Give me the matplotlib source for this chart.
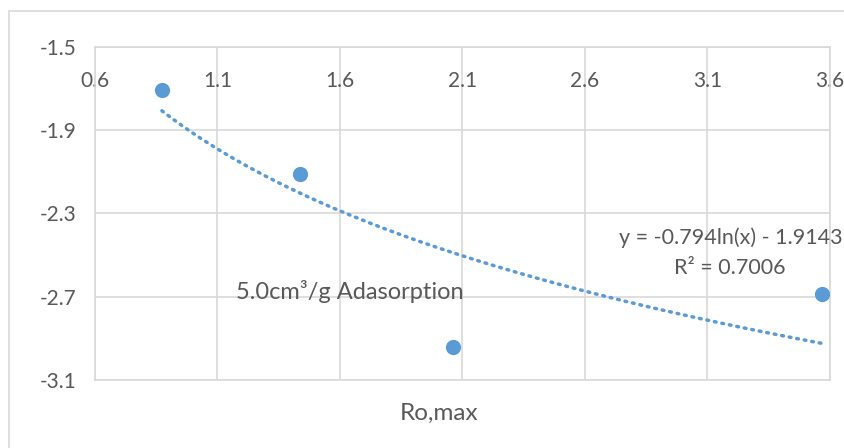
import matplotlib.pyplot as plt
import matplotlib.patches as mpatches
import numpy as np

# data
ro_max = [0.873, 1.437, 2.061, 3.567]
adsorption = [-1.707, -2.110, -2.942, -2.687]
xticks = [0.6, 1.1, 1.6, 2.1, 2.6, 3.1, 3.6]
yticks = [-3.1, -2.7, -2.3, -1.9, -1.5]

# trendline coefficients (from chart label)
a, b = -0.794, -1.9143

blue = '#5B9BD5'
grey_txt = '#595959'
grid_c = '#D9D9D9'

plt.rcParams['font.family'] = ['Lato', 'DejaVu Sans']

fig = plt.figure(figsize=(8.45, 4.48), dpi=100)
ax = fig.add_axes([95/845, 1-380/448, 735/845, 333/448])

# outer chart border
fig.patches.append(mpatches.Rectangle((9/845, -0.1), 1.2, 1.1 - 11/448,
                                      transform=fig.transFigure, fill=False,
                                      edgecolor=grid_c, linewidth=1.2))

xt = np.linspace(min(ro_max), max(ro_max), 200)
ax.plot(xt, a*np.log(xt) + b, color=blue, linewidth=2.5,
        linestyle=(0, (0.5, 1.7)), dash_capstyle='round', zorder=3)
ax.scatter(ro_max, adsorption, s=120, color=blue, zorder=4, linewidths=0)

ax.set_xlim(0.6, 3.6)
ax.set_ylim(-3.1, -1.5)
ax.set_xticks(xticks)
ax.set_yticks(yticks)
ax.set_xticklabels([f'{v:.1f}' for v in xticks])
ax.set_yticklabels([f'{v:.1f}' for v in yticks])
ax.grid(True, color=grid_c, linewidth=1.2)
ax.set_axisbelow(True)
for s in ax.spines.values():
    s.set_color(grid_c)
    s.set_linewidth(1.2)

ax.tick_params(axis='x', top=True, labeltop=True, bottom=False, labelbottom=False,
               length=0, pad=-32, labelsize=15, labelcolor=grey_txt)
ax.tick_params(axis='y', length=0, pad=13, labelsize=15, labelcolor=grey_txt)

ax.set_xlabel('Ro,max', fontsize=17.5, color=grey_txt)
ax.xaxis.set_label_coords(0.468, -0.07)
ax.xaxis.label.set_va('top')

ax.text(1.641, -2.677, '5.0cm³/g Adasorption',
        fontsize=17, color=grey_txt, ha='center', va='center')
ax.text(3.653, -2.418, 'y = -0.794ln(x) - 1.9143',
        fontsize=15.5, color=grey_txt, ha='right', va='center', clip_on=False)
ax.text(3.192, -2.562, 'R² = 0.7006',
        fontsize=15.5, color=grey_txt, ha='center', va='center')

fig.savefig('out.png', dpi=100)
